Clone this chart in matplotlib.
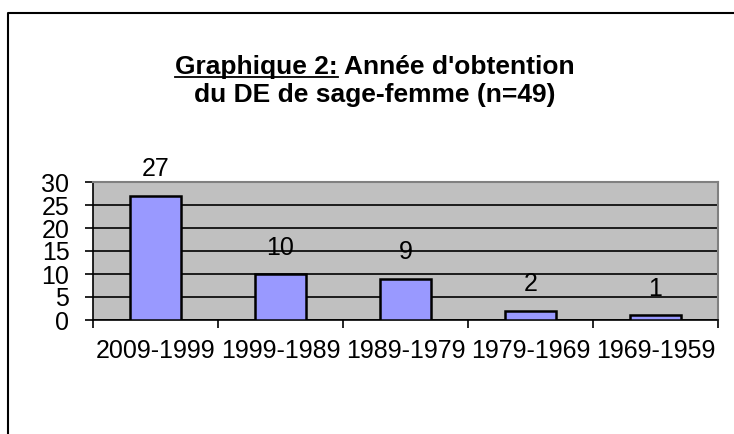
import numpy as np
import matplotlib
matplotlib.use("Agg")
import matplotlib.pyplot as plt

# Donnees
periodes = ["2009-1999", "1999-1989", "1989-1979", "1979-1969", "1969-1959"]
effectifs = [27, 10, 9, 2, 1]
yticks = [0, 5, 10, 15, 20, 25, 30]

plt.rcParams['font.family'] = ['Liberation Sans', 'DejaVu Sans']

W, H = 734, 434
fig = plt.figure(figsize=(W / 100, H / 100), dpi=100)

# cadre de la figure (seuls les bords gauche et haut sont visibles)
fig.add_artist(plt.Line2D([8 / W, 8 / W, 1.0], [0, 1 - 13 / H, 1 - 13 / H],
                          transform=fig.transFigure, color="black", linewidth=1.5))

ax = fig.add_axes([93 / W, 1 - 320 / H, 625 / W, 138 / H])
ax.set_facecolor("#C0C0C0")

x = np.arange(len(periodes))
ax.bar(x, effectifs, width=0.41, color="#9999FF", edgecolor="black", linewidth=1.8, zorder=3)

ax.set_xlim(-0.5, len(periodes) - 0.5)
ax.set_ylim(0, 30)
ax.set_yticks(yticks)
ax.set_yticklabels([str(v) for v in yticks], fontsize=18)
ax.yaxis.grid(True, color="black", linewidth=1.2, zorder=1)
ax.set_axisbelow(True)

ax.set_xticks(x)
ax.set_xticklabels(periodes, fontsize=18)
ax.tick_params(axis="x", length=0, pad=14)
ax.set_xticks(np.arange(len(periodes) + 1) - 0.5, minor=True)
ax.tick_params(axis="x", which="minor", length=6, width=1.2, color="black")
ax.tick_params(axis="y", length=6, width=1.2, pad=11)

for s in ["top", "right"]:
    ax.spines[s].set_color("#808080")
    ax.spines[s].set_linewidth(1.5)
for s in ["left", "bottom"]:
    ax.spines[s].set_color("black")
    ax.spines[s].set_linewidth(1.2)

for xi, v in zip(x, effectifs):
    ax.annotate(str(v), (xi, v), xytext=(0, 19), textcoords="offset points",
                ha="center", va="center", fontsize=18)

# titre
ligne1 = "Graphique 2: Année d'obtention"
prefixe = "Graphique 2:"
tsize = 19
t1 = fig.text(375 / W, 1 - 74 / H, ligne1, ha="center", va="baseline",
              fontsize=tsize, fontweight="bold")
fig.text(375 / W, 1 - 102 / H, "du DE de sage-femme (n=49)",
         ha="center", va="baseline", fontsize=tsize, fontweight="bold")

fig.canvas.draw()
r = fig.canvas.get_renderer()
bb = t1.get_window_extent(r)
tmp = fig.text(0, 0, prefixe, fontsize=tsize, fontweight="bold")
wp = tmp.get_window_extent(r).width
tmp.remove()
yu = (H - 77) / H
fig.add_artist(plt.Line2D([bb.x0 / W, (bb.x0 + wp) / W], [yu, yu],
                          transform=fig.transFigure, color="black", linewidth=1.3))

fig.savefig("out.png", dpi=100)
